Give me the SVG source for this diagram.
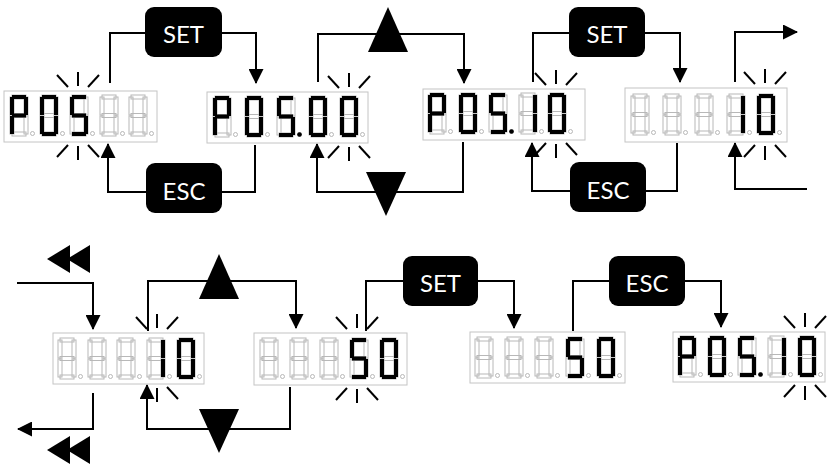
<svg xmlns="http://www.w3.org/2000/svg" xmlns:xlink="http://www.w3.org/1999/xlink" width="829" height="468" viewBox="0 0 829 468">
<style>
.box{fill:#fff;stroke:#c4c4c4;stroke-width:1}
.off{fill:none;stroke:#b8b8b8;stroke-width:1}
.on{fill:#000;stroke:none}
.dot{fill:#000}
.ray{stroke:#000;stroke-width:2;fill:none}
.con{fill:none;stroke:#000;stroke-width:2}
.arr{marker-end:url(#ah)}
.btn{fill:#000}
.lbl{fill:#fff;font-family:Lato,"Open Sans","Liberation Sans",sans-serif;font-size:24px;text-anchor:middle}
.tri{fill:#000}
</style>
<defs>
<marker id="ah" markerUnits="userSpaceOnUse" markerWidth="15" markerHeight="15" viewBox="0 0 15 15" refX="14" refY="7.5" orient="auto"><path d="M0,0L15,7.5L0,15z" fill="#000"/></marker>
<rect id="sa" x="2" y="0" width="14" height="4"/>
<rect id="sb" x="14" y="2" width="4" height="18"/>
<rect id="sc" x="14" y="21" width="4" height="18"/>
<rect id="sd" x="2" y="37" width="14" height="4"/>
<rect id="se" x="0" y="21" width="4" height="18"/>
<rect id="sf" x="0" y="2" width="4" height="18"/>
<rect id="sg" x="2" y="18.5" width="14" height="4"/>
<g id="off"><use href="#sa"/><use href="#sb"/><use href="#sc"/><use href="#sd"/><use href="#se"/><use href="#sf"/><use href="#sg"/><circle cx="22.5" cy="38.5" r="2"/></g>
<g id="gP"><use href="#sa"/><use href="#sb"/><use href="#sf"/><use href="#sg"/><use href="#se"/></g>
<g id="g0"><use href="#sa"/><use href="#sb"/><use href="#sc"/><use href="#sd"/><use href="#se"/><use href="#sf"/></g>
<g id="g5"><use href="#sa"/><use href="#sf"/><use href="#sg"/><use href="#sc"/><use href="#sd"/></g>
<g id="g1"><use href="#sb"/><use href="#sc"/></g>
<g id="spT" class="ray"><line x1="-21" y1="-16" x2="-10" y2="-4"/><line x1="0" y1="-19" x2="0" y2="-5"/><line x1="10" y1="-4" x2="21" y2="-16"/></g>
<g id="spB2" class="ray"><line x1="0" y1="4" x2="0" y2="18"/><line x1="10" y1="3" x2="21" y2="15"/></g>
<g id="spB" class="ray"><line x1="-21" y1="15" x2="-10" y2="3"/><use href="#spB2"/></g>
</defs>
<rect width="829" height="468" fill="#fff"/>

<g id="connectors">
<path class="con" d="M110,83V33H145"/>
<path class="con arr" d="M222,33H256V83"/>
<path class="con" d="M255,145V192H222"/>
<path class="con arr" d="M146,192H108V144"/>
<path class="con arr" d="M318,82V34H464V83"/>
<path class="con arr" d="M463,142V192H317V144"/>
<path class="con" d="M533,82V33H569"/>
<path class="con arr" d="M645,33H680V82"/>
<path class="con" d="M677,143V191H646"/>
<path class="con arr" d="M570,191H532V143"/>
<path class="con arr" d="M735,82V32H797"/>
<path class="con arr" d="M807,189H735V143"/>
<path class="con arr" d="M17,283H93V329"/>
<path class="con arr" d="M93,393V429H18"/>
<path class="con arr" d="M148,331V281H296V328"/>
<path class="con arr" d="M290,387V429H147V385"/>
<path class="con" d="M366,331V281H403"/>
<path class="con arr" d="M478,281H514V328"/>
<path class="con" d="M573,331V281H609"/>
<path class="con arr" d="M685,281H721V327"/>
</g>

<g id="set1"><rect class="btn" x="145" y="7" width="77" height="50" rx="9"/><text class="lbl" x="183.5" y="43">SET</text></g>
<g id="esc1"><rect class="btn" x="146" y="163" width="76" height="50" rx="9"/><text class="lbl" x="184" y="200">ESC</text></g>
<g id="up1"><polygon class="tri" points="388,7 408,52 368,52"/></g>
<g id="down1"><polygon class="tri" points="366,172 406,172 386,216"/></g>
<g id="set2"><rect class="btn" x="569" y="7" width="76" height="50" rx="9"/><text class="lbl" x="607" y="43">SET</text></g>
<g id="esc2"><rect class="btn" x="570" y="162" width="76" height="50" rx="9"/><text class="lbl" x="608" y="199">ESC</text></g>
<g id="rew1"><polygon class="tri" points="47,259 70,245 70,273"/><polygon class="tri" points="67,259 90,245 90,273"/></g>
<g id="rew2"><polygon class="tri" points="47,450 70,436 70,464"/><polygon class="tri" points="67,450 90,436 90,464"/></g>
<g id="up2"><polygon class="tri" points="219,254 239,299 199,299"/></g>
<g id="down2"><polygon class="tri" points="199,409 239,409 219,453"/></g>
<g id="set3"><rect class="btn" x="403" y="256" width="75" height="50" rx="9"/><text class="lbl" x="440.5" y="292">SET</text></g>
<g id="esc3"><rect class="btn" x="609" y="256" width="76" height="50" rx="9"/><text class="lbl" x="647" y="292">ESC</text></g>

<g id="d1">
<rect class="box" x="4" y="91" width="153" height="51"/>
<use href="#off" class="off" x="10" y="95"/><use href="#off" class="off" x="40" y="95"/><use href="#off" class="off" x="70" y="95"/><use href="#off" class="off" x="100" y="95"/><use href="#off" class="off" x="129" y="95"/>
<use href="#gP" class="on" x="10" y="95"/><use href="#g0" class="on" x="40" y="95"/><use href="#g5" class="on" x="70" y="95"/>
<use href="#spT" x="78" y="91"/><use href="#spB" x="78" y="142"/>
</g>
<g id="d2">
<rect class="box" x="207" y="92" width="161" height="51"/>
<use href="#off" class="off" x="213" y="96"/><use href="#off" class="off" x="245" y="96"/><use href="#off" class="off" x="277" y="96"/><use href="#off" class="off" x="309" y="96"/><use href="#off" class="off" x="340" y="96"/>
<use href="#gP" class="on" x="213" y="96"/><use href="#g0" class="on" x="245" y="96"/><use href="#g5" class="on" x="277" y="96"/><use href="#g0" class="on" x="309" y="96"/><use href="#g0" class="on" x="340" y="96"/>
<circle class="dot" cx="299.5" cy="134.5" r="2.3"/>
<use href="#spT" x="349" y="92"/><use href="#spB" x="349" y="143"/>
</g>
<g id="d3">
<rect class="box" x="423" y="89" width="162" height="51"/>
<use href="#off" class="off" x="428" y="93"/><use href="#off" class="off" x="459" y="93"/><use href="#off" class="off" x="489" y="93"/><use href="#off" class="off" x="519" y="93"/><use href="#off" class="off" x="548" y="93"/>
<use href="#gP" class="on" x="428" y="93"/><use href="#g0" class="on" x="459" y="93"/><use href="#g5" class="on" x="489" y="93"/><use href="#g1" class="on" x="519" y="93"/><use href="#g0" class="on" x="548" y="93"/>
<circle class="dot" cx="511.5" cy="131.5" r="2.3"/>
<use href="#spT" x="556" y="89"/><use href="#spB" x="556" y="140"/>
</g>
<g id="d4">
<rect class="box" x="625" y="88" width="162" height="54"/>
<use href="#off" class="off" x="631" y="94"/><use href="#off" class="off" x="663" y="94"/><use href="#off" class="off" x="695" y="94"/><use href="#off" class="off" x="727" y="94"/><use href="#off" class="off" x="757" y="94"/>
<use href="#g1" class="on" x="727" y="94"/><use href="#g0" class="on" x="757" y="94"/>
<use href="#spT" x="765" y="88"/><use href="#spB" x="765" y="142"/>
</g>
<g id="d5">
<rect class="box" x="53" y="333" width="151" height="51"/>
<use href="#off" class="off" x="58" y="338"/><use href="#off" class="off" x="88" y="338"/><use href="#off" class="off" x="117" y="338"/><use href="#off" class="off" x="147" y="338"/><use href="#off" class="off" x="177" y="338"/>
<use href="#g1" class="on" x="147" y="338"/><use href="#g0" class="on" x="177" y="338"/>
<use href="#spT" x="157" y="333"/><use href="#spB2" x="157" y="384"/>
</g>
<g id="d6">
<rect class="box" x="254" y="333" width="153" height="52"/>
<use href="#off" class="off" x="260" y="338"/><use href="#off" class="off" x="290" y="338"/><use href="#off" class="off" x="320" y="338"/><use href="#off" class="off" x="350" y="338"/><use href="#off" class="off" x="380" y="338"/>
<use href="#g5" class="on" x="350" y="338"/><use href="#g0" class="on" x="380" y="338"/>
<use href="#spT" x="357" y="333"/><use href="#spB" x="357" y="385"/>
</g>
<g id="d7">
<rect class="box" x="470" y="332" width="155" height="51"/>
<use href="#off" class="off" x="475" y="337"/><use href="#off" class="off" x="505" y="337"/><use href="#off" class="off" x="535" y="337"/><use href="#off" class="off" x="566" y="337"/><use href="#off" class="off" x="597" y="337"/>
<use href="#g5" class="on" x="566" y="337"/><use href="#g0" class="on" x="597" y="337"/>
</g>
<g id="d8">
<rect class="box" x="673" y="332" width="152" height="50"/>
<use href="#off" class="off" x="678" y="336"/><use href="#off" class="off" x="708" y="336"/><use href="#off" class="off" x="738" y="336"/><use href="#off" class="off" x="768" y="336"/><use href="#off" class="off" x="798" y="336"/>
<use href="#gP" class="on" x="678" y="336"/><use href="#g0" class="on" x="708" y="336"/><use href="#g5" class="on" x="738" y="336"/><use href="#g1" class="on" x="768" y="336"/><use href="#g0" class="on" x="798" y="336"/>
<circle class="dot" cx="760.5" cy="374.5" r="2.3"/>
<use href="#spT" x="805" y="332"/><use href="#spB" x="805" y="382"/>
</g>
</svg>
